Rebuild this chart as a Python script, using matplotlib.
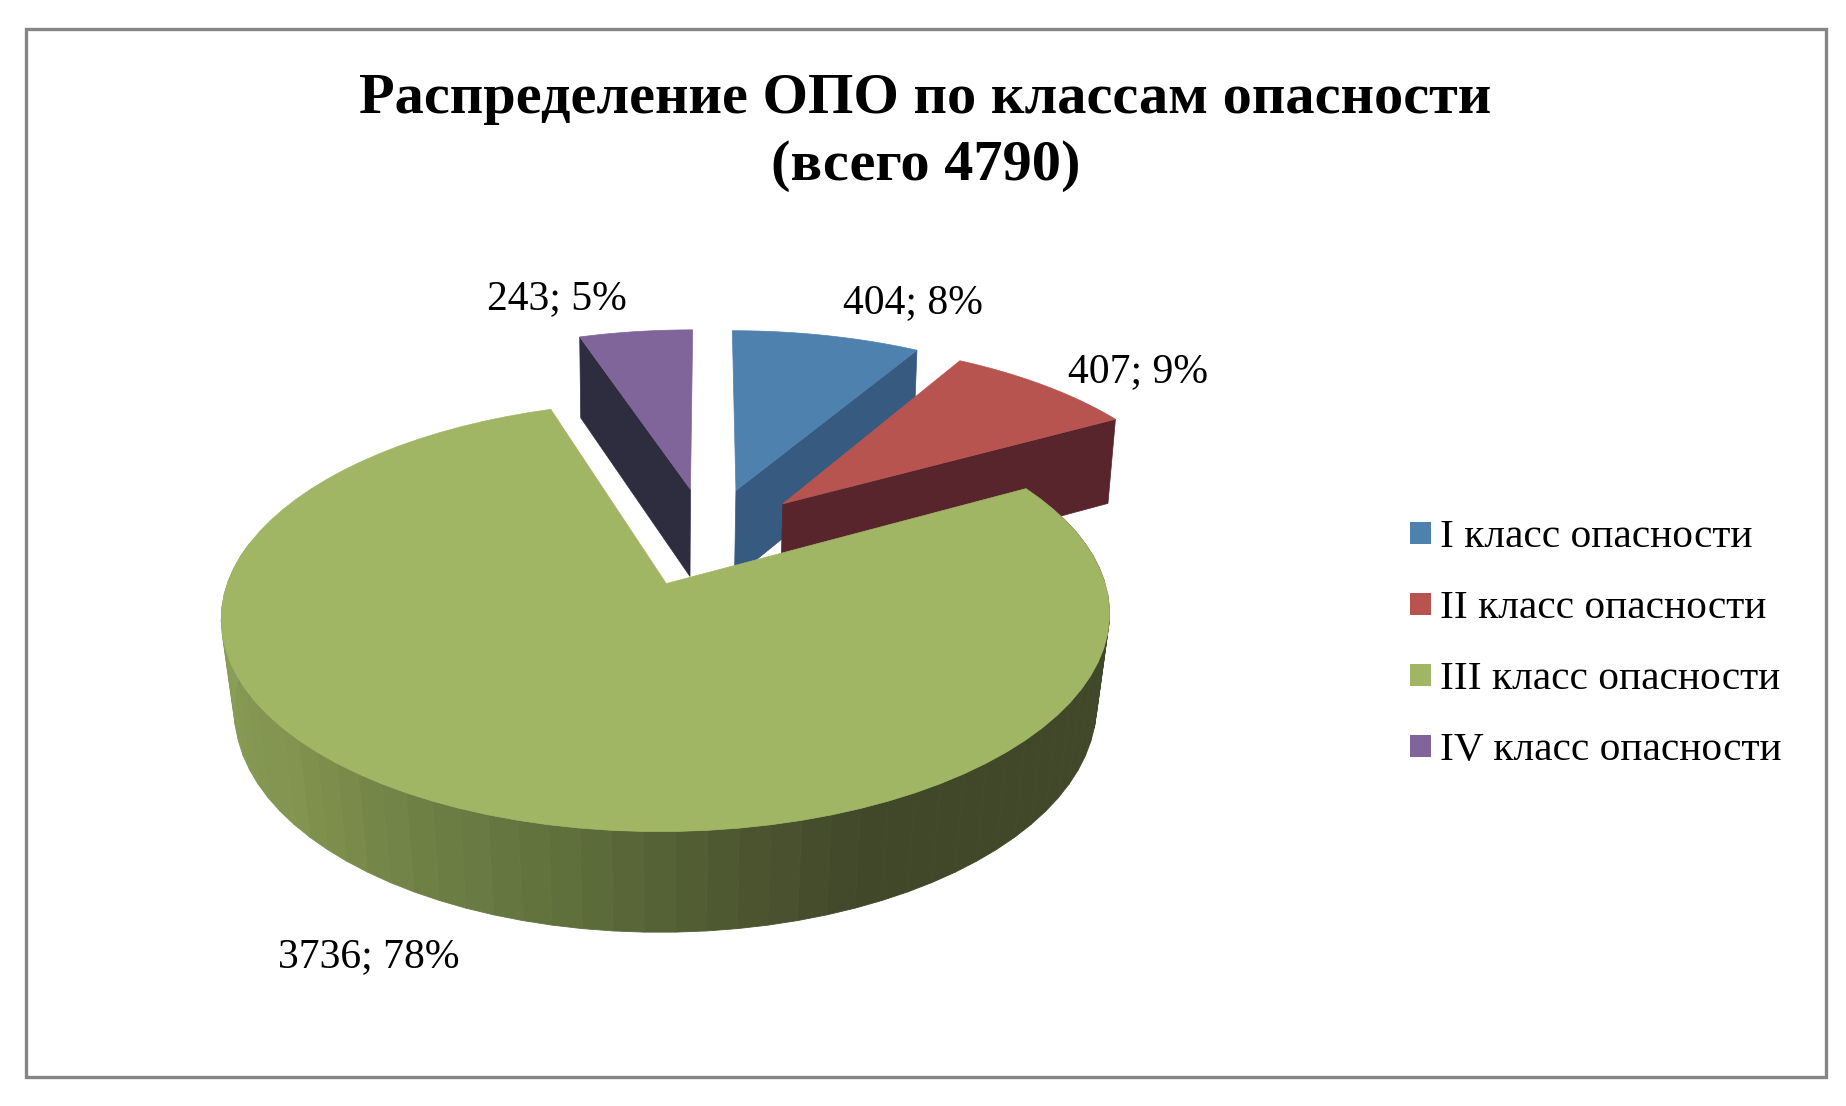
import numpy as np
import matplotlib
matplotlib.use('Agg')
import matplotlib.pyplot as plt
from matplotlib.patches import Polygon, Rectangle
from matplotlib.colors import LinearSegmentedColormap

# data
classes = ['I класс опасности', 'II класс опасности', 'III класс опасности', 'IV класс опасности']
counts = [404, 407, 3736, 243]
percents = [8, 9, 78, 5]
total = 4790
title = f'Распределение ОПО по классам опасности\n(всего {total})'

# styles
top_colors = ['#4f81af', '#b85450', '#a1b665', '#80659a']
cut_colors = ['#365a80', '#58252d', '#414729', '#2e2c3f']
explode = [0.27, 0.27, 0.23, 0.27]
shift_x = [4, 0, 0, 5]
label_pos = [(913, 313), (1138, 382), (369, 967), (557, 309)]
serif = 'Liberation Serif'

# perspective of the pie plane, in pixels
X0, Y0 = 703, 540
A, B, K = 197, 425, 0.148


def project(x, y):
    d = 1 + K * y
    return X0 + B * x / d, Y0 - A * y / d


def drop(px, py):
    # bottom rim of a point: lower and slightly pulled towards the middle
    depth = 87 + (py - 490) * 0.04
    s = np.maximum(0.97, 0.988 - (py - 340) * 6e-5)
    return X0 - 35 + (px - X0 + 35) * s, py + depth


fig = plt.figure(figsize=(18.46, 11.06), dpi=100)
ax = fig.add_axes([0, 0, 1, 1])
ax.set_xlim(0, 1846)
ax.set_ylim(1106, 0)
ax.axis('off')

ax.add_patch(Rectangle((25.5, 29), 1800, 1048, fill=False, ec='#868686', lw=2.4))

# slice angles, clockwise from the top
angles = 90 - np.cumsum([0] + counts) / sum(counts) * 360

side_cmap = LinearSegmentedColormap.from_list('side', [
    (0.0, '#8a9f58'), (0.25, '#82944f'), (0.5, '#5f6f3c'),
    (0.62, '#4c5530'), (0.72, '#414729'), (1.0, '#414729')])


def slice_outline(i, n=120):
    a0, a1 = angles[i], angles[i + 1]
    mid = np.radians((a0 + a1) / 2)
    ox, oy = explode[i] * np.cos(mid), explode[i] * np.sin(mid)
    t = np.radians(np.linspace(a0, a1, n))
    return ox, oy, ox + np.cos(t), oy + np.sin(t), t


# cut faces of the back slices, drawn first so the front ones cover them
for i, rim_index in [(0, -1), (1, -1), (3, 0)]:
    ox, oy, xs, ys, t = slice_outline(i)
    tip = np.array(project(ox, oy)) + [shift_x[i], 0]
    px, py = project(xs, ys)
    px = px + shift_x[i]
    corner = (px[rim_index], py[rim_index])
    ax.add_patch(Polygon([tip, corner, drop(*corner), drop(*tip)], closed=True,
                         fc=cut_colors[i], ec=cut_colors[i], lw=0.5))
    ax.add_patch(Polygon(np.column_stack([np.r_[tip[0], px], np.r_[tip[1], py]]),
                         closed=True, fc=top_colors[i], ec=top_colors[i], lw=0.5))

# outer wall of the big slice in bands
ox, oy, xs, ys, t = slice_outline(2, n=80)
px, py = project(xs, ys)
bx, by = drop(px, py)
deg = np.degrees(t) % 360
for j in range(len(t) - 1):
    m = (deg[j] + deg[j + 1]) / 2
    if m < 40:
        c = '#414729'
    elif m < 170:
        continue
    else:
        c = side_cmap((m - 180) / 160)
    ax.add_patch(Polygon([(px[j], py[j]), (px[j + 1], py[j + 1]),
                          (bx[j + 1], by[j + 1]), (bx[j], by[j])],
                         closed=True, fc=c, ec=c, lw=0.6))

tip = project(ox, oy)
ax.add_patch(Polygon(np.column_stack([np.r_[tip[0], px], np.r_[tip[1], py]]),
                     closed=True, fc=top_colors[2], ec=top_colors[2], lw=0.5))

# data labels
for c, p, (lx, ly) in zip(counts, percents, label_pos):
    ax.text(lx, ly, f'{c}; {p}%', ha='center', va='baseline', fontsize=30,
            family=serif, color='black')

# title
ax.text(925, 113, title.split('\n')[0], ha='center', va='baseline', fontsize=42,
        family=serif, weight='bold')
ax.text(926, 180, title.split('\n')[1], ha='center', va='baseline', fontsize=42,
        family=serif, weight='bold')

# legend
for i, name in enumerate(classes):
    y = 547 + i * 71
    ax.add_patch(Rectangle((1410, y - 25), 21, 22, fc=top_colors[i], ec='none'))
    ax.text(1440, y, name, ha='left', va='baseline', fontsize=29.8, family=serif)

fig.savefig('out.png', dpi=100)
